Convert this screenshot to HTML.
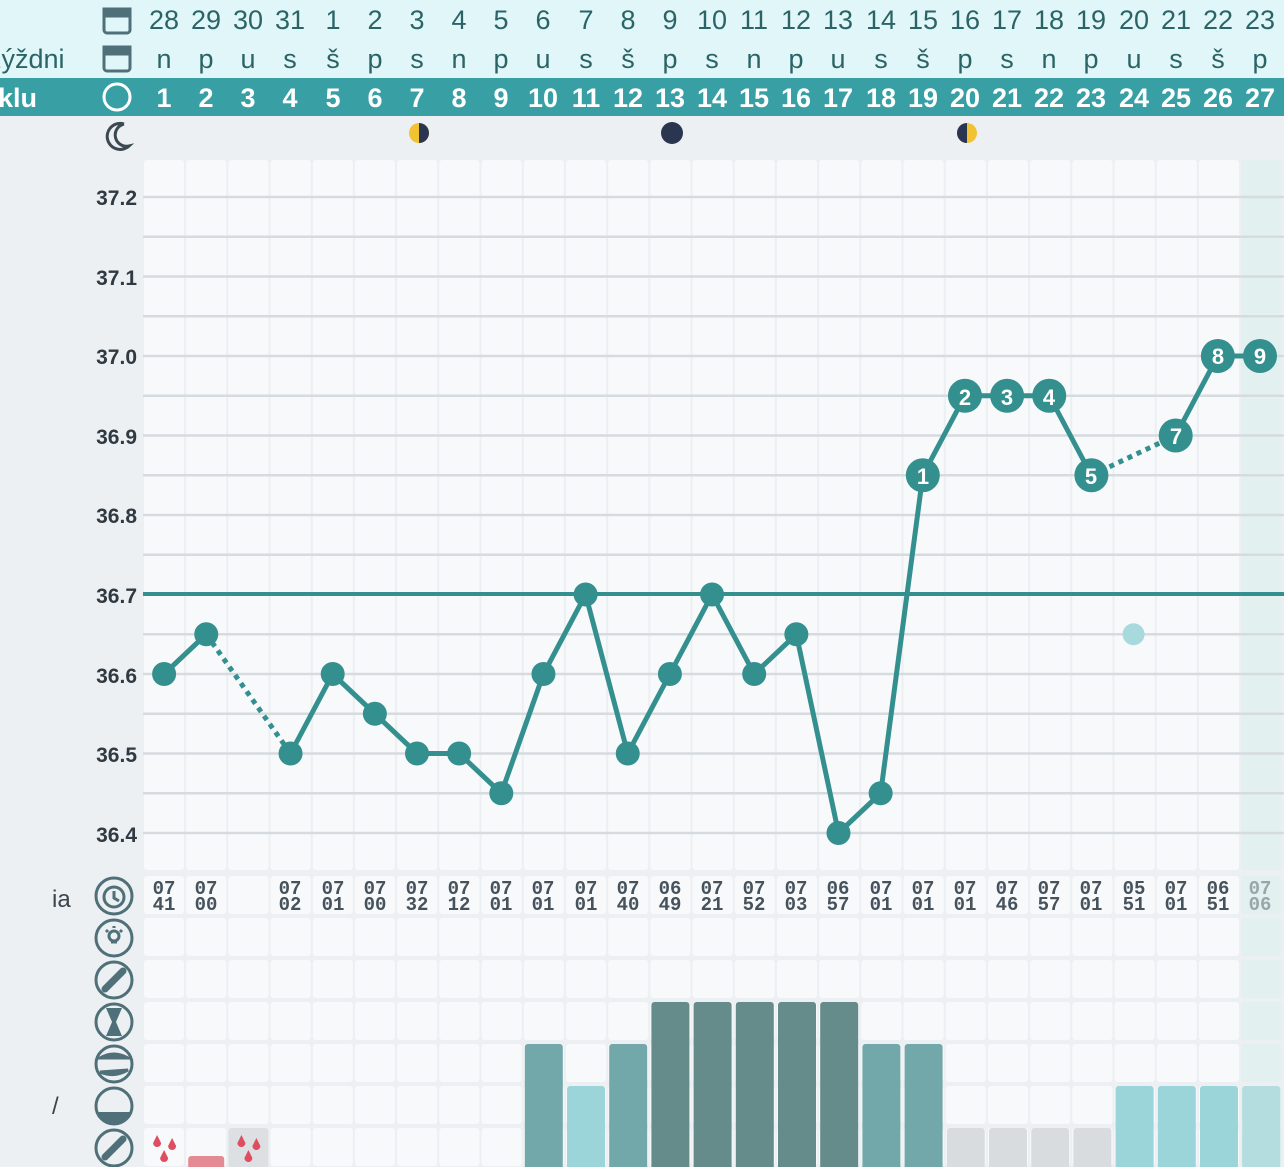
<!DOCTYPE html>
<html><head><meta charset="utf-8"><style>
html,body{margin:0;padding:0;background:#edf0f3;width:1284px;height:1167px;overflow:hidden}
svg{display:block}
.t{font-family:"Liberation Sans","DejaVu Sans",sans-serif}
</style></head><body>
<svg id="s" width="1284" height="1167" xmlns="http://www.w3.org/2000/svg">
<rect x="0" y="0" width="1284" height="78" fill="#e1f6f8"/>
<rect x="0" y="78" width="1284" height="38" fill="#38a0a5"/>
<rect x="0" y="116" width="1284" height="1051" fill="#edf0f3"/>
<g id="bg"></g>
<g id="lines"></g>
<g id="icons" fill="none" stroke="#4f7078" stroke-width="3">
<rect x="104" y="9" width="26" height="24" rx="3"/><rect x="104" y="9" width="26" height="7" fill="#4f7078"/>
<rect x="104" y="47" width="26" height="24" rx="3"/><rect x="104" y="47" width="26" height="7" fill="#4f7078"/>
<circle cx="117" cy="97" r="13" stroke="#fff"/>
<path d="M124 124 A13 13 0 1 0 129 146 A11 11 0 0 1 124 124" stroke="#3b4a52"/>
<circle cx="114" cy="896" r="18"/><circle cx="114" cy="897" r="10"/><path d="M114 891 L114 898 L119 901"/>
<circle cx="114" cy="938" r="18"/><circle cx="114" cy="936" r="5"/><path d="M111 942 L117 942 M114 926 L114 928 M106 930 L108 932 M122 930 L120 932"/>
<circle cx="114" cy="980" r="18"/><line x1="105" y1="989" x2="123" y2="971" stroke-width="7" stroke-linecap="round"/>
<circle cx="114" cy="1022" r="18"/><path d="M106 1008 L122 1008 L116 1022 L122 1036 L106 1036 L112 1022Z" fill="#4f7078" stroke="none"/>
<circle cx="114" cy="1064" r="18"/><path d="M100 1058 Q114 1050 128 1058 Z M100 1072 Q114 1078 128 1070 Z" fill="#4f7078"/>
<circle cx="114" cy="1106" r="18"/><path d="M97 1112 L131 1112 A18 18 0 0 1 97 1112Z" fill="#4f7078" stroke="none"/>
<circle cx="114" cy="1148" r="18"/><line x1="105" y1="1157" x2="123" y2="1139" stroke-width="7" stroke-linecap="round"/>
</g>
<g class="t" font-size="27" fill="#2a6466" text-anchor="middle">
<text y="29"><tspan x="164">28</tspan><tspan x="206">29</tspan><tspan x="248">30</tspan><tspan x="290">31</tspan><tspan x="333">1</tspan><tspan x="375">2</tspan><tspan x="417">3</tspan><tspan x="459">4</tspan><tspan x="501">5</tspan><tspan x="543">6</tspan><tspan x="586">7</tspan><tspan x="628">8</tspan><tspan x="670">9</tspan><tspan x="712">10</tspan><tspan x="754">11</tspan><tspan x="796">12</tspan><tspan x="838">13</tspan><tspan x="881">14</tspan><tspan x="923">15</tspan><tspan x="965">16</tspan><tspan x="1007">17</tspan><tspan x="1049">18</tspan><tspan x="1091">19</tspan><tspan x="1134">20</tspan><tspan x="1176">21</tspan><tspan x="1218">22</tspan><tspan x="1260">23</tspan></text>
<text y="68"><tspan x="164">n</tspan><tspan x="206">p</tspan><tspan x="248">u</tspan><tspan x="290">s</tspan><tspan x="333">š</tspan><tspan x="375">p</tspan><tspan x="417">s</tspan><tspan x="459">n</tspan><tspan x="501">p</tspan><tspan x="543">u</tspan><tspan x="586">s</tspan><tspan x="628">š</tspan><tspan x="670">p</tspan><tspan x="712">s</tspan><tspan x="754">n</tspan><tspan x="796">p</tspan><tspan x="838">u</tspan><tspan x="881">s</tspan><tspan x="923">š</tspan><tspan x="965">p</tspan><tspan x="1007">s</tspan><tspan x="1049">n</tspan><tspan x="1091">p</tspan><tspan x="1134">u</tspan><tspan x="1176">s</tspan><tspan x="1218">š</tspan><tspan x="1260">p</tspan></text>
<text x="-12" y="68" text-anchor="start">zýždni</text>
<text y="107" fill="#fff" font-weight="bold"><tspan x="164">1</tspan><tspan x="206">2</tspan><tspan x="248">3</tspan><tspan x="290">4</tspan><tspan x="333">5</tspan><tspan x="375">6</tspan><tspan x="417">7</tspan><tspan x="459">8</tspan><tspan x="501">9</tspan><tspan x="543">10</tspan><tspan x="586">11</tspan><tspan x="628">12</tspan><tspan x="670">13</tspan><tspan x="712">14</tspan><tspan x="754">15</tspan><tspan x="796">16</tspan><tspan x="838">17</tspan><tspan x="881">18</tspan><tspan x="923">19</tspan><tspan x="965">20</tspan><tspan x="1007">21</tspan><tspan x="1049">22</tspan><tspan x="1091">23</tspan><tspan x="1134">24</tspan><tspan x="1176">25</tspan><tspan x="1218">26</tspan><tspan x="1260">27</tspan></text>
<text x="-2" y="107" text-anchor="start" fill="#fff" font-weight="bold">klu</text>
</g>
<g class="t" font-size="21" fill="#2f3a42" font-weight="bold" text-anchor="end">
<text x="137" y="205">37.2</text><text x="137" y="285">37.1</text><text x="137" y="364">37.0</text><text x="137" y="444">36.9</text><text x="137" y="523">36.8</text><text x="137" y="603">36.7</text><text x="137" y="683">36.6</text><text x="137" y="762">36.5</text><text x="137" y="842">36.4</text>
</g>
<text class="t" x="52" y="907" font-size="24" fill="#3a444c">ia</text>
<text class="t" x="52" y="1114" font-size="24" fill="#3a444c">/</text>
<circle cx="419" cy="133" r="10" fill="#f1c232"/><path d="M419 123 A10 10 0 0 1 419 143Z" fill="#2a3550"/>
<circle cx="672" cy="133" r="11" fill="#2a3550"/>
<circle cx="967" cy="133" r="10" fill="#f1c232"/><path d="M967 123 A10 10 0 0 0 967 143Z" fill="#2a3550"/>
<g font-family="Liberation Mono,monospace" font-size="19" font-weight="bold" fill="#46525c" text-anchor="middle">
<text y="894"><tspan x="164">07</tspan><tspan x="206">07</tspan><tspan x="290">07</tspan><tspan x="333">07</tspan><tspan x="375">07</tspan><tspan x="417">07</tspan><tspan x="459">07</tspan><tspan x="501">07</tspan><tspan x="543">07</tspan><tspan x="586">07</tspan><tspan x="628">07</tspan><tspan x="670">06</tspan><tspan x="712">07</tspan><tspan x="754">07</tspan><tspan x="796">07</tspan><tspan x="838">06</tspan><tspan x="881">07</tspan><tspan x="923">07</tspan><tspan x="965">07</tspan><tspan x="1007">07</tspan><tspan x="1049">07</tspan><tspan x="1091">07</tspan><tspan x="1134">05</tspan><tspan x="1176">07</tspan><tspan x="1218">06</tspan><tspan x="1260" fill="#9aa6aa">07</tspan></text>
<text y="910"><tspan x="164">41</tspan><tspan x="206">00</tspan><tspan x="290">02</tspan><tspan x="333">01</tspan><tspan x="375">00</tspan><tspan x="417">32</tspan><tspan x="459">12</tspan><tspan x="501">01</tspan><tspan x="543">01</tspan><tspan x="586">01</tspan><tspan x="628">40</tspan><tspan x="670">49</tspan><tspan x="712">21</tspan><tspan x="754">52</tspan><tspan x="796">03</tspan><tspan x="838">57</tspan><tspan x="881">01</tspan><tspan x="923">01</tspan><tspan x="965">01</tspan><tspan x="1007">46</tspan><tspan x="1049">57</tspan><tspan x="1091">01</tspan><tspan x="1134">51</tspan><tspan x="1176">01</tspan><tspan x="1218">51</tspan><tspan x="1260" fill="#9aa6aa">06</tspan></text>
</g>
<g id="chart"></g>
<g class="t" font-size="22" fill="#fff" text-anchor="middle" font-weight="bold">
<text x="923" y="484">1</text><text x="965" y="405">2</text><text x="1007" y="405">3</text><text x="1049" y="405">4</text><text x="1091" y="484">5</text><text x="1176" y="444">7</text><text x="1218" y="364">8</text><text x="1260" y="364">9</text>
</g>
</svg>
<script>
var NS="http://www.w3.org/2000/svg";
function el(p,n,a){var e=document.createElementNS(NS,n);for(var k in a)e.setAttribute(k,a[k]);document.getElementById(p).appendChild(e);return e;}
function L(i){return 143+i*42.2;}
function cx(i){return 164.1+i*42.15;}
for(var i=0;i<27;i++){
  var last=i==26;
  el("bg","rect",{x:L(i)+1,y:160,width:40,height:710,rx:3,fill:last?"#e2f0ef":"#f8f9fb"});
  for(var r=0;r<7;r++){
    el("bg","rect",{x:L(i)+1,y:876+r*42,width:40,height:38,rx:3,fill:last?"#e2f0ef":"#f8f9fb"});
  }
}
for(var k=0;k<17;k++){var y=197+k*39.75;el("lines","line",{x1:143,x2:1284,y1:y,y2:y,stroke:"#d5dbdf","stroke-width":2.5});}
var bars={9:[1044,"#72a8aa"],10:[1086,"#9bd4d9"],11:[1044,"#72a8aa"],12:[1002,"#668b8b"],13:[1002,"#668b8b"],14:[1002,"#668b8b"],15:[1002,"#668b8b"],16:[1002,"#668b8b"],17:[1044,"#72a8aa"],18:[1044,"#72a8aa"],19:[1128,"#d9dcdf"],20:[1128,"#d9dcdf"],21:[1128,"#d9dcdf"],22:[1128,"#d9dcdf"],23:[1086,"#9bd4d9"],24:[1086,"#9bd4d9"],25:[1086,"#9bd4d9"],26:[1086,"#b4dde0"]};
for(var b in bars){el("bg","rect",{x:L(+b)+2,y:bars[b][0],width:38,height:1167-bars[b][0]+5,rx:3,fill:bars[b][1]});}
el("bg","rect",{x:L(2)+1,y:1128,width:40,height:45,rx:3,fill:"#dde0e3"});
el("bg","rect",{x:L(1)+3,y:1156,width:36,height:14,rx:3,fill:"#e48a94"});
[[0],[2]].forEach(function(a){var c=cx(a[0]);[[c-7,1142],[c+8,1145],[c,1157]].forEach(function(p){el("bg","path",{d:"M"+p[0]+" "+(p[1]-7)+" L"+(p[0]+4)+" "+(p[1]+1)+" A4 4 0 1 1 "+(p[0]-4)+" "+(p[1]+1)+"Z",fill:"#de4e5e"});});});
function Y(t){return 197+(37.2-t)*795;}
var C="#348f8f";
el("chart","line",{x1:143,x2:1284,y1:594,y2:594,stroke:C,"stroke-width":4});
var d={0:36.6,1:36.65,3:36.5,4:36.6,5:36.55,6:36.5,7:36.5,8:36.45,9:36.6,10:36.7,11:36.5,12:36.6,13:36.7,14:36.6,15:36.65,16:36.4,17:36.45,18:36.85,19:36.95,20:36.95,21:36.95,22:36.85,24:36.9,25:37.0,26:37.0};
var keys=Object.keys(d).map(Number);
for(var j=0;j<keys.length-1;j++){var a=keys[j],b=keys[j+1];
  var at={x1:cx(a),y1:Y(d[a]),x2:cx(b),y2:Y(d[b]),stroke:C,"stroke-width":5};
  if(b-a>1)at["stroke-dasharray"]="5 5";
  el("chart","line",at);}
keys.forEach(function(k){el("chart","circle",{cx:cx(k),cy:Y(d[k]),r:k>=18?17:12,fill:C});});
el("chart","circle",{cx:cx(23),cy:Y(36.65),r:11,fill:"#a8dadd"});
</script>
</body></html>
